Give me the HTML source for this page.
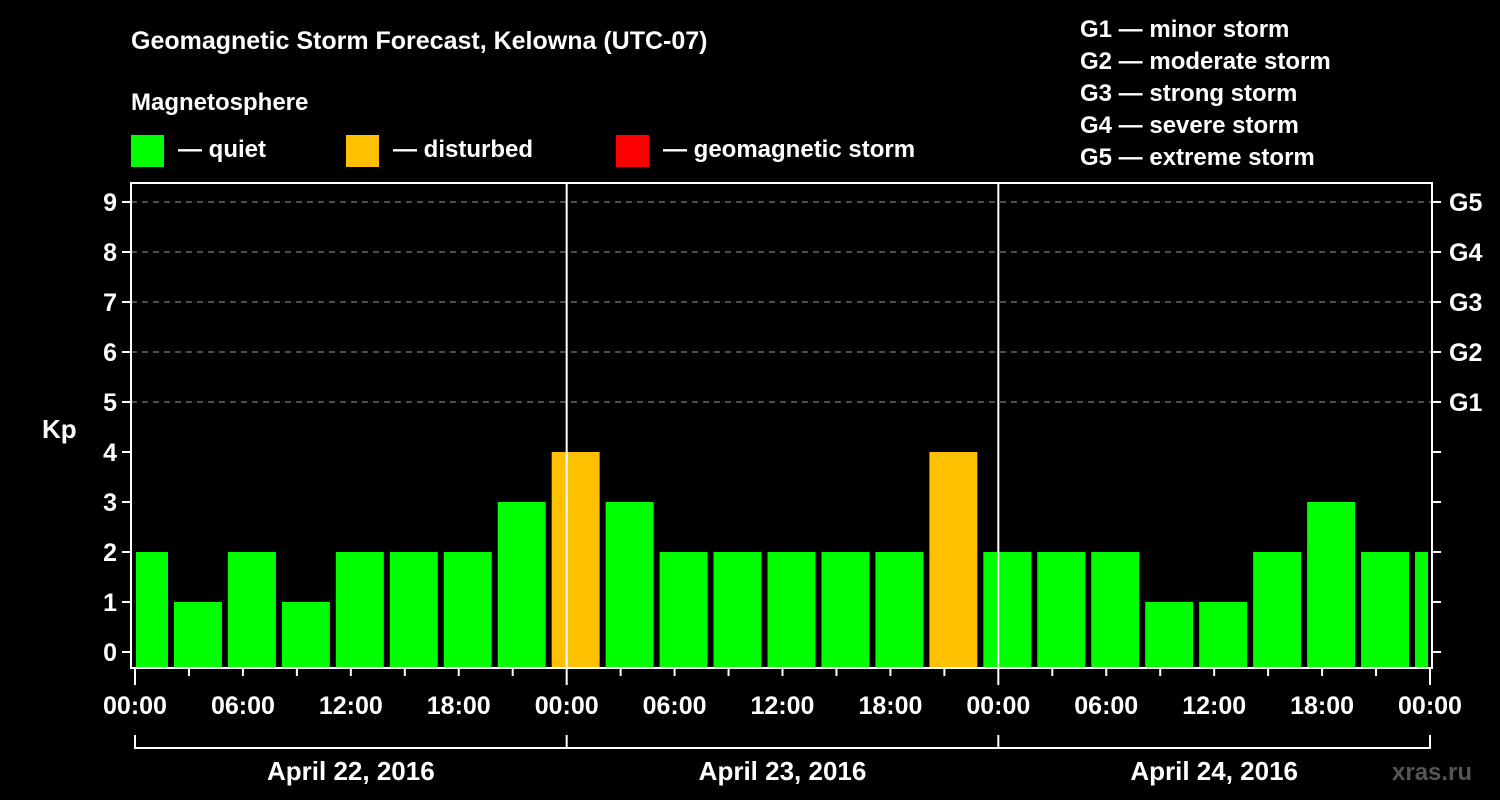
<!DOCTYPE html>
<html><head><meta charset="utf-8"><style>
body{margin:0;background:#000;width:1500px;height:800px;overflow:hidden}
svg{display:block;font-family:"Liberation Sans",Arial,sans-serif;font-weight:bold}
</style></head><body>
<svg id="chart" width="1500" height="800">
<text x="131" y="49" fill="#fff" font-size="25">Geomagnetic Storm Forecast, Kelowna (UTC-07)</text>
<text x="131" y="110" fill="#fff" font-size="24">Magnetosphere</text>
<g><rect x="131" y="135" width="33" height="32" fill="#00ff00"/><text x="178" y="157" fill="#fff" font-size="24">— quiet</text></g>
<g><rect x="346" y="135" width="33" height="32" fill="#ffc000"/><text x="393" y="157" fill="#fff" font-size="24">— disturbed</text></g>
<g><rect x="616" y="135" width="33" height="32" fill="#ff0000"/><text x="663" y="157" fill="#fff" font-size="24">— geomagnetic storm</text></g>
<g fill="#fff" font-size="24">
<text x="1080" y="37">G1 — minor storm</text>
<text x="1080" y="69">G2 — moderate storm</text>
<text x="1080" y="101">G3 — strong storm</text>
<text x="1080" y="133">G4 — severe storm</text>
<text x="1080" y="165">G5 — extreme storm</text>
</g>
<text x="42" y="438" fill="#fff" font-size="26">Kp</text>
<text x="1392" y="780" fill="#555" font-size="24">xras.ru</text>
<g id="plot"></g>
</svg>
<script>
const kpValues=[2,1,2,1,2,2,2,3,4,3,2,2,2,2,2,4,2,2,2,1,1,2,3,2,2];
const tickLabels=["00:00","06:00","12:00","18:00","00:00","06:00","12:00","18:00","00:00","06:00","12:00","18:00","00:00"];
const dayLabels=["April 22, 2016","April 23, 2016","April 24, 2016"];
const gLabels=["G1","G2","G3","G4","G5"];
const X0=135,X1=1430,HOURS=72;
const xs=h=>X0+(X1-X0)*h/HOURS;
const ys=v=>652-50*v;
const g=document.getElementById('plot');
const NS='http://www.w3.org/2000/svg';
function mk(t,a){const e=document.createElementNS(NS,t);for(const k in a)e.setAttribute(k,a[k]);g.appendChild(e);return e;}
// grid
for(let v=5;v<=9;v++){const l=mk('line',{x1:131,x2:1432,y1:ys(v),y2:ys(v),stroke:'#999','stroke-dasharray':'6,5','stroke-width':1});

}
// bars
kpValues.forEach((v,i)=>{
 let h0=-1+3*i,h1=h0+3;
 let a=Math.max(xs(h0),X0)+3, b=Math.min(xs(h1),X1)-3;
 if(h0<0)a=X0+1; if(h1>HOURS)b=X1-2;
 const r=mk('rect',{x:a,y:ys(v),width:b-a,height:668-ys(v),fill:v>=5?'#ff0000':(v>=4?'#ffc000':'#00ff00')});
 
 
});
// day separators
[24,48].forEach(h=>{const l=mk('line',{x1:xs(h),x2:xs(h),y1:182,y2:668,stroke:'#fff','stroke-width':2});

});
// frame
const f=mk('rect',{x:131,y:183,width:1301,height:485,fill:'none',stroke:'#fff','stroke-width':2});


// y ticks/labels
for(let v=0;v<=9;v++){
 mk('line',{x1:122,x2:131,y1:ys(v),y2:ys(v),stroke:'#fff','stroke-width':2});
 mk('line',{x1:1432,x2:1441,y1:ys(v),y2:ys(v),stroke:'#fff','stroke-width':2});
 const t=mk('text',{x:117,y:ys(v)+9,fill:'#fff','font-size':25,'text-anchor':'end'});t.textContent=v;
 
 
}
gLabels.forEach((s,i)=>{const t=mk('text',{x:1449,y:ys(5+i)+9,fill:'#fff','font-size':25});t.textContent=s;

});
// x ticks
for(let h=0;h<=HOURS;h+=3){mk('line',{x1:xs(h),x2:xs(h),y1:668,y2:h%24==0?685:676,stroke:'#fff','stroke-width':2});}
tickLabels.forEach((s,i)=>{const t=mk('text',{x:xs(i*6),y:714,fill:'#fff','font-size':25,'text-anchor':'middle'});t.textContent=s;

});
// date bracket
mk('line',{x1:X0,x2:X1,y1:748,y2:748,stroke:'#fff','stroke-width':2});
for(let d=0;d<=3;d++)mk('line',{x1:xs(d*24),x2:xs(d*24),y1:735,y2:749,stroke:'#fff','stroke-width':2});
dayLabels.forEach((s,i)=>{const t=mk('text',{x:xs(i*24+12),y:780,fill:'#fff','font-size':26,'text-anchor':'middle'});t.textContent=s;

});
</script>
</body></html>
